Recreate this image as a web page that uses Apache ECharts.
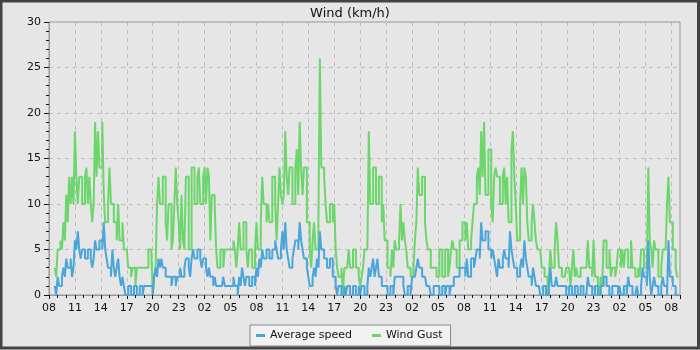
<!DOCTYPE html>
<html>
<head>
<meta charset="utf-8">
<script src="https://cdn.jsdelivr.net/npm/echarts@6/dist/echarts.min.js"></script>
<style>
  html, body { margin: 0; padding: 0; background: #e6e6e6; }
  #chart { width: 700px; height: 350px; }
</style>
</head>
<body>
<div id="chart"></div>
<script>
  // samples every 10 minutes, first one at 08:40 on day 1
  var startHour = 2 / 3
  var stepHours = 1 / 6
  var hourLabels = ['08', '11', '14', '17', '20', '23', '02', '05', '08', '11', '14', '17', '20', '23', '02', '05', '08', '11', '14', '17', '20', '23', '02', '05', '08']

  var windGust = [
    3, 2, 5, 5, 6, 5, 8, 6, 11, 8, 13, 10, 13, 10, 18, 13, 10, 13, 13, 10,
    10, 13, 14, 10, 13, 10, 8, 10, 19, 13, 18, 14, 14, 19, 11, 8, 8, 10, 14, 10,
    10, 8, 8, 6, 10, 6, 6, 8, 5, 5, 5, 3, 3, 2, 3, 3, 1, 3, 3, 3,
    3, 3, 3, 3, 3, 5, 5, 5, 0, 2, 3, 10, 13, 10, 10, 13, 13, 8, 6, 10,
    10, 5, 6, 10, 14, 10, 8, 5, 11, 6, 5, 13, 13, 5, 5, 14, 14, 10, 10, 13,
    14, 10, 10, 13, 14, 10, 14, 13, 6, 11, 11, 10, 5, 3, 3, 5, 5, 3, 5, 5,
    5, 5, 5, 5, 6, 5, 3, 5, 8, 5, 5, 8, 8, 5, 3, 5, 5, 3, 3, 5,
    8, 5, 5, 8, 13, 10, 10, 8, 10, 8, 8, 13, 13, 10, 6, 10, 14, 11, 10, 11,
    18, 13, 11, 14, 14, 10, 10, 14, 16, 11, 19, 14, 11, 14, 14, 8, 8, 5, 3, 6,
    8, 5, 5, 8, 26, 14, 14, 13, 10, 8, 8, 10, 10, 8, 10, 5, 3, 2, 2, 3,
    0, 3, 3, 3, 5, 3, 3, 5, 5, 3, 3, 2, 1, 2, 3, 5, 5, 5, 18, 10,
    10, 14, 14, 10, 10, 13, 13, 8, 10, 6, 6, 3, 3, 2, 5, 3, 6, 5, 5, 6,
    10, 6, 8, 6, 5, 3, 3, 2, 2, 3, 6, 8, 14, 11, 11, 13, 13, 8, 6, 5,
    5, 3, 3, 3, 3, 2, 2, 5, 5, 2, 2, 5, 5, 2, 3, 5, 6, 5, 5, 3,
    3, 6, 6, 8, 8, 6, 8, 5, 5, 6, 8, 10, 10, 13, 14, 11, 18, 13, 19, 11,
    11, 16, 16, 10, 8, 13, 14, 13, 13, 10, 10, 13, 14, 10, 13, 8, 8, 16, 18, 13,
    10, 6, 6, 10, 14, 10, 14, 13, 8, 6, 6, 8, 10, 8, 6, 5, 5, 5, 3, 3,
    2, 2, 0, 2, 5, 3, 3, 5, 8, 6, 3, 3, 2, 2, 2, 3, 3, 3, 1, 3,
    5, 2, 3, 2, 2, 3, 3, 3, 3, 3, 6, 3, 3, 2, 6, 2, 2, 1, 0, 2,
    1, 6, 6, 3, 3, 5, 2, 3, 3, 2, 3, 5, 5, 3, 5, 3, 5, 5, 3, 3,
    6, 3, 3, 2, 2, 3, 2, 5, 5, 3, 3, 3, 14, 6, 5, 3, 6, 5, 5, 2,
    2, 3, 5, 5, 5, 10, 13, 8, 8, 5, 5, 3, 2, 2
  ]
  var avgSpeed = [
    1, 0, 2, 1, 1, 2, 3, 2, 4, 3, 3, 4, 2, 3, 6, 5, 7, 5, 4, 5,
    5, 4, 4, 5, 5, 4, 3, 4, 6, 5, 5, 6, 6, 5, 8, 5, 4, 3, 3, 2,
    5, 3, 2, 3, 4, 2, 1, 2, 1, 0, 0, 1, 1, 0, 0, 1, 1, 0, 0, 1,
    1, 0, 1, 1, 1, 1, 1, 1, 0, 2, 3, 2, 4, 3, 4, 3, 3, 2, 2, 2,
    2, 1, 2, 2, 1, 2, 2, 3, 2, 2, 3, 4, 4, 3, 2, 4, 5, 4, 4, 5,
    5, 4, 3, 4, 4, 3, 2, 3, 2, 2, 1, 2, 1, 1, 1, 1, 1, 2, 1, 1,
    1, 1, 1, 1, 2, 1, 1, 0, 2, 1, 3, 2, 1, 2, 2, 1, 1, 2, 2, 1,
    3, 2, 4, 3, 5, 4, 4, 5, 5, 4, 4, 5, 5, 6, 5, 4, 4, 5, 7, 5,
    8, 5, 4, 3, 3, 4, 5, 6, 6, 5, 8, 6, 5, 4, 4, 3, 2, 1, 1, 2,
    3, 2, 4, 3, 7, 5, 5, 4, 4, 3, 3, 4, 4, 2, 2, 1, 0, 1, 1, 0,
    0, 1, 0, 1, 1, 0, 0, 1, 1, 0, 0, 1, 0, 1, 1, 0, 0, 1, 3, 2,
    3, 4, 2, 3, 4, 2, 2, 1, 1, 1, 1, 0, 0, 1, 1, 0, 2, 2, 2, 2,
    2, 2, 1, 0, 0, 1, 1, 0, 2, 2, 2, 3, 4, 3, 3, 2, 2, 2, 1, 1,
    1, 0, 0, 1, 1, 1, 1, 0, 0, 1, 1, 0, 1, 1, 0, 1, 1, 2, 2, 2,
    2, 3, 3, 3, 3, 2, 4, 2, 2, 4, 4, 3, 4, 5, 5, 4, 8, 6, 6, 7,
    7, 5, 5, 4, 5, 4, 3, 2, 4, 3, 3, 4, 5, 4, 4, 3, 7, 5, 4, 3,
    3, 2, 2, 3, 4, 3, 6, 4, 3, 2, 2, 1, 3, 2, 1, 1, 1, 0, 0, 1,
    1, 0, 0, 1, 3, 1, 1, 1, 2, 1, 1, 1, 1, 1, 1, 0, 0, 1, 1, 0,
    0, 1, 1, 0, 0, 1, 1, 0, 0, 0, 2, 1, 1, 0, 0, 1, 1, 0, 0, 1,
    1, 2, 2, 1, 1, 0, 0, 1, 1, 1, 1, 0, 1, 0, 0, 1, 1, 0, 2, 1,
    1, 0, 0, 0, 1, 0, 0, 1, 3, 2, 2, 1, 6, 2, 0, 1, 2, 1, 1, 0,
    0, 1, 2, 1, 1, 0, 6, 2, 2, 1, 1, 0, 0, 0
  ]

  function toPoints(values) {
    return values.map(function (v, i) { return [startHour + i * stepHours, v] })
  }

  var chart = echarts.init(document.getElementById('chart'))
  var option = {
    backgroundColor: '#e6e6e6',
    animation: false,
    textStyle: { fontFamily: 'DejaVu Sans' },
    title: {
      text: 'Wind (km/h)',
      left: 'center',
      top: 2,
      textStyle: { color: '#111', fontSize: 13, fontWeight: 'normal', fontFamily: 'DejaVu Sans' }
    },
    legend: {
      data: ['Average speed', 'Wind Gust'],
      left: 250,
      top: 325,
      width: 202,
      padding: [5, 8, 5, 6],
      itemGap: 20,
      itemWidth: 9,
      itemHeight: 3,
      icon: 'rect',
      backgroundColor: '#f2f2f2',
      borderColor: '#888',
      borderWidth: 1,
      borderRadius: 0,
      textStyle: { color: '#111', fontSize: 11, fontFamily: 'DejaVu Sans' }
    },
    grid: {
      left: 49, right: 20, top: 22, bottom: 55,
      show: true,
      borderColor: '#999',
      borderWidth: 1,
      backgroundColor: 'transparent'
    },
    xAxis: {
      type: 'value',
      min: 0,
      max: 73,
      interval: 3,
      axisLine: { lineStyle: { color: '#999' } },
      axisTick: { length: 4, lineStyle: { color: '#111' } },
      minorTick: { show: true, splitNumber: 3, length: 3, lineStyle: { color: '#111' } },
      splitLine: { show: true, lineStyle: { color: '#bdbdbd', type: [4, 4] } },
      axisLabel: {
        color: '#111',
        fontSize: 11,
        margin: 8,
        showMaxLabel: false,
        formatter: function (v) { return hourLabels[Math.round(v / 3)] || '' }
      }
    },
    yAxis: {
      type: 'value',
      min: 0,
      max: 30,
      interval: 5,
      axisLine: { show: true, lineStyle: { color: '#999' } },
      axisTick: { show: true, length: 5, lineStyle: { color: '#111' } },
      minorTick: { show: true, splitNumber: 5, length: 3, lineStyle: { color: '#111' } },
      splitLine: { show: true, lineStyle: { color: '#bdbdbd', type: [4, 4] } },
      axisLabel: { color: '#111', fontSize: 11, margin: 8 }
    },
    series: [
      {
        name: 'Wind Gust',
        type: 'line',
        step: 'end',
        showSymbol: false,
        color: '#6cd66c',
        lineStyle: { width: 2, color: '#6cd66c' },
        z: 2,
        data: toPoints(windGust)
      },
      {
        name: 'Average speed',
        type: 'line',
        step: 'end',
        showSymbol: false,
        color: '#4aa6da',
        lineStyle: { width: 2, color: '#4aa6da' },
        z: 3,
        data: toPoints(avgSpeed)
      }
    ],
    graphic: [{
      type: 'rect',
      silent: true,
      z: 100,
      shape: { x: 1, y: 1, width: 697.5, height: 347 },
      style: { fill: 'none', stroke: '#444', lineWidth: 3 }
    }]
  }
  chart.setOption(option)
</script>
</body>
</html>
